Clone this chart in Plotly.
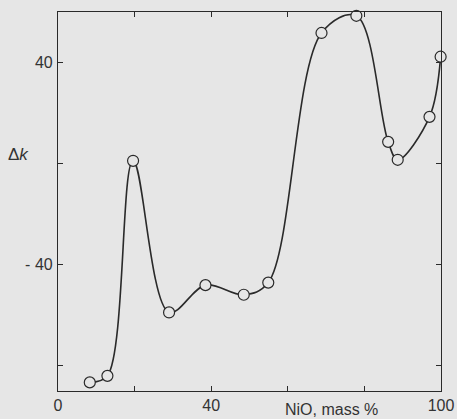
import plotly.graph_objects as go

nio_mass = [8.3, 12.9, 19.6, 29.0, 38.5, 48.5, 54.9, 68.8, 77.9, 86.2, 88.7, 97.0, 99.9]
delta_k = [-86.6, -84.0, 1.1, -58.9, -48.1, -51.9, -47.1, 51.7, 58.5, 8.6, 1.5, 18.5, 42.3]

x_tickvals = [0, 20, 40, 60, 80, 100]
x_ticktext = ["0", "", "40", "", "", "100"]
y_tickvals = [-80, -40, 0, 40]
y_ticktext = ["", "- 40", "", "40"]

bg = "#e6e6e6"
ink = "#2a2a2a"

fig = go.Figure()
fig.add_trace(go.Scatter(
    x=nio_mass, y=delta_k, mode="lines+markers",
    line=dict(color=ink, width=1.6, shape="spline", smoothing=1.0),
    marker=dict(symbol="circle", size=11, color=bg, line=dict(color=ink, width=1.2)),
    showlegend=False, cliponaxis=False, hoverinfo="skip",
))

axis_common = dict(showgrid=False, zeroline=False, showline=True, linecolor=ink, linewidth=1.2,
                   mirror="ticks", ticks="inside", ticklen=5, tickcolor=ink, automargin=False,
                   tickfont=dict(family="Liberation Sans", size=16, color="#333"))
fig.update_xaxes(range=[0, 100], tickvals=x_tickvals, ticktext=x_ticktext, ticklabelstandoff=0, **axis_common)
fig.update_yaxes(range=[-90, 60], tickvals=y_tickvals, ticktext=y_ticktext, ticklabelstandoff=1, **axis_common)

fig.update_layout(
    template="none",
    width=457, height=419,
    margin=dict(l=58, r=16, t=12, b=28),
    paper_bgcolor=bg, plot_bgcolor=bg,
    annotations=[
        dict(text="Δ<i>k</i>", xref="paper", yref="paper", x=-0.102, y=0.625,
             showarrow=False, xanchor="center", yanchor="middle",
             font=dict(family="Liberation Sans", size=17, color="#333")),
        dict(text="NiO, mass %", xref="paper", yref="paper", x=0.713, y=-0.05,
             showarrow=False, xanchor="center", yanchor="middle",
             font=dict(family="Liberation Sans", size=16, color="#333")),
    ],
)

fig.write_html("out.html", config={"displayModeBar": False},
               post_script="document.body.style.margin='0';document.body.style.background='#e6e6e6';")
